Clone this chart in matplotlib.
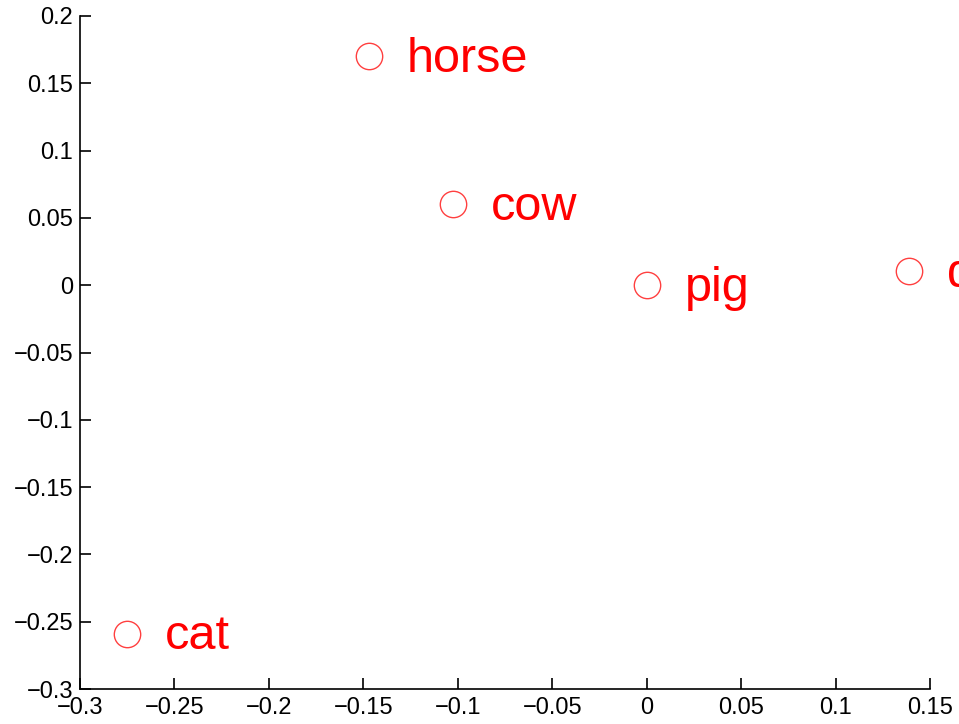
import matplotlib.pyplot as plt
from matplotlib.transforms import offset_copy

# animal coordinates
names = ['horse', 'cow', 'pig', 'dog', 'cat']
xs = [-0.147, -0.1025, 0.0, 0.139, -0.275]
ys = [0.170, 0.060, 0.0, 0.0105, -0.259]

plt.rcParams['font.family'] = ['Liberation Sans', 'DejaVu Sans']

fig = plt.figure(figsize=(9.59, 7.24), dpi=100)
ax = fig.add_axes([80 / 959, 35 / 724, 850 / 959, 673 / 724])

ax.plot(xs, ys, 'o', mfc='none', mec='red', ms=19, mew=1.0, alpha=0.75)
# labels sit a little right of each marker, nudged down a couple of pixels
trans = offset_copy(ax.transData, fig=fig, x=0, y=-3, units='dots')
for n, x, y in zip(names, xs, ys):
    ax.text(x + 0.02, y, n, color='red', fontsize=35, va='center', ha='left',
            transform=trans)

ax.set_xlim(-0.3, 0.15)
ax.set_ylim(-0.3, 0.2)
ax.set_xticks([-0.3, -0.25, -0.2, -0.15, -0.1, -0.05, 0, 0.05, 0.1, 0.15])
ax.set_yticks([-0.3, -0.25, -0.2, -0.15, -0.1, -0.05, 0, 0.05, 0.1, 0.15, 0.2])
ax.set_xticklabels(['\u22120.3', '\u22120.25', '\u22120.2', '\u22120.15', '\u22120.1',
                    '\u22120.05', '0', '0.05', '0.1', '0.15'])
ax.set_yticklabels(['\u22120.3', '\u22120.25', '\u22120.2', '\u22120.15', '\u22120.1',
                    '\u22120.05', '0', '0.05', '0.1', '0.15', '0.2'])
ax.tick_params(direction='in', length=8, width=1.2, labelsize=17)
ax.tick_params(axis='x', pad=6)
ax.tick_params(axis='y', pad=5)
ax.spines['top'].set_visible(False)
ax.spines['right'].set_visible(False)
for s in ['left', 'bottom']:
    ax.spines[s].set_linewidth(1.2)

fig.savefig('out.png', dpi=100)
